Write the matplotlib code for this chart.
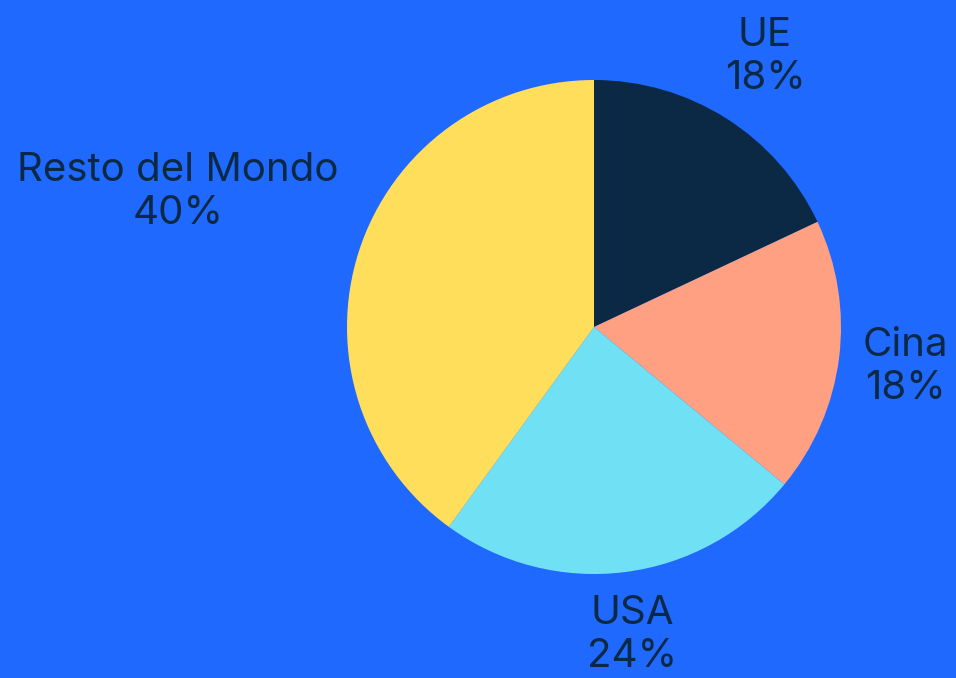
import matplotlib.pyplot as plt

# Data
labels = ["UE", "Cina", "USA", "Resto del Mondo"]
shares = [18, 18, 24, 40]
colors = ["#0B2945", "#FFA083", "#70E1F5", "#FFDE5C"]

BG = "#1F69FF"
TEXT = "#0B2945"

plt.rcParams["font.family"] = ["Inter", "DejaVu Sans"]

fig = plt.figure(figsize=(9.56, 6.78), dpi=100, facecolor=BG)
ax = fig.add_axes([0, 0, 1, 1])
ax.set_facecolor(BG)

# Pie (pixel coords, y up)
ax.pie(shares, colors=colors, startangle=90, counterclock=False,
       center=(594, 678 - 327), radius=247, frame=True,
       wedgeprops={"linewidth": 0})
ax.set_xlim(0, 956)
ax.set_ylim(0, 678)
ax.set_aspect("equal")
ax.axis("off")

# Label positions (centre of text block, in pixels from top-left)
label_pos = [(765, 57), (905, 367), (632, 635), (178, 192)]

for name, val, (x, y) in zip(labels, shares, label_pos):
    ax.text(x, 678 - y, f"{name}\n{val}%", ha="center", va="center",
            fontsize=29, color=TEXT, linespacing=1.2)

fig.savefig("out.png", dpi=100, facecolor=BG)
